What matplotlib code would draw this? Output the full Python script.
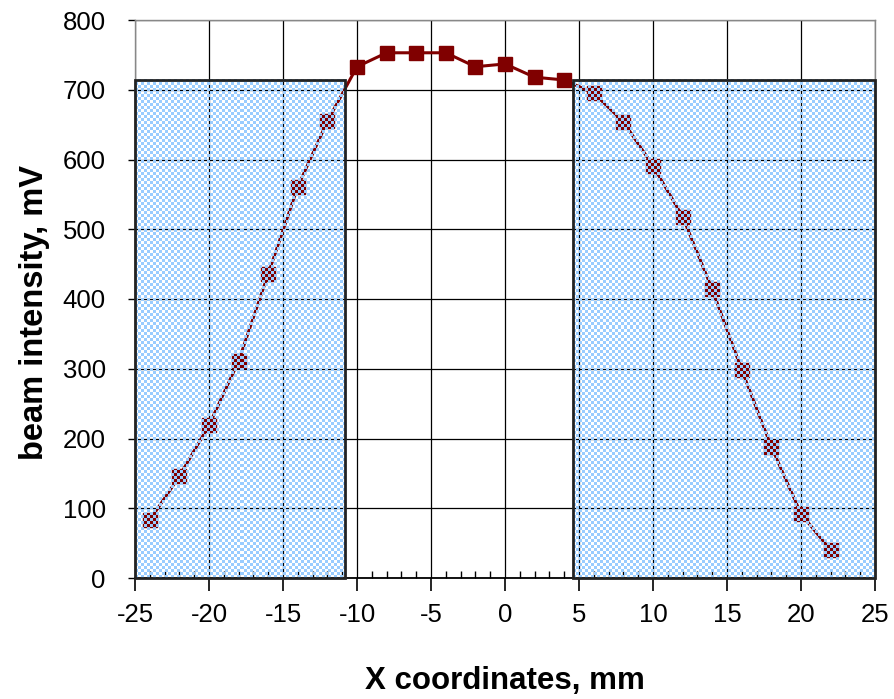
import numpy as np
import matplotlib
matplotlib.use("Agg")
import matplotlib.pyplot as plt
from matplotlib.patches import Rectangle

x_mm = [-24, -22, -20, -18, -16, -14, -12, -10, -8, -6, -4, -2, 0, 2, 4,
        6, 8, 10, 12, 14, 16, 18, 20, 22]
intensity_mv = [83, 146, 219, 311, 436, 561, 655, 733, 753, 753, 753, 733, 737, 718, 714,
                695, 654, 591, 518, 414, 298, 188, 92, 40]
shade_left = (-25, -10.8)
shade_right = (4.6, 25)
shade_top = 714
x_ticks = [-25, -20, -15, -10, -5, 0, 5, 10, 15, 20, 25]
y_ticks = [0, 100, 200, 300, 400, 500, 600, 700, 800]

plt.rcParams['font.family'] = ['Liberation Sans', 'DejaVu Sans']
plt.rcParams['axes.unicode_minus'] = False

W, H = 894, 699
fig = plt.figure(figsize=(W / 100, H / 100), dpi=100)
L, R, B, T = 135 / W, 875 / W, (H - 578) / H, (H - 20) / H
ax = fig.add_axes([L, B, R - L, T - B])
ax.set_xlim(-25, 25)
ax.set_ylim(0, 800)
ax.set_xticks(x_ticks)
ax.set_yticks(y_ticks)
ax.set_xticks(np.arange(-25, 26, 1), minor=True)
ax.grid(True, which='major', color='black', linewidth=0.9, zorder=1)
ax.set_axisbelow(True)

ax.tick_params(axis='x', which='major', direction='out', length=9, width=1.2,
               labelsize=18.5, pad=9)
ax.tick_params(axis='x', which='minor', direction='in', length=5, width=1.0)
ax.tick_params(axis='y', which='major', direction='out', length=5, width=1.0,
               labelsize=18.5, pad=16)
for s in ['top', 'right', 'left']:
    ax.spines[s].set_color('#888888')
    ax.spines[s].set_linewidth(1.0)
ax.spines['bottom'].set_color('black')
ax.spines['bottom'].set_linewidth(1.3)

ax.plot(x_mm, intensity_mv, color='#800000', linewidth=2.2, marker='s',
        markersize=9.5, markerfacecolor='#800000', markeredgecolor='#800000', zorder=3)

# checker overlay for shaded regions
px_per_x = (875 - 135) / 50.0
px_per_y = (578 - 20) / 800.0
cell = 3.0
for (x0, x1) in [shade_left, shade_right]:
    nx = int(round((x1 - x0) * px_per_x / cell))
    ny = int(round(shade_top * px_per_y / cell))
    ii, jj = np.indices((ny, nx))
    mask = ((ii + jj) % 2 == 0)
    img = np.zeros((ny, nx, 4))
    img[..., 0] = 0x99 / 255
    img[..., 1] = 0xCC / 255
    img[..., 2] = 1.0
    img[..., 3] = np.where(mask, 1.0, 0.0)
    ax.imshow(img, extent=(x0, x1, 0, shade_top), aspect='auto',
              interpolation='nearest', zorder=4, origin='lower')
    ax.add_patch(Rectangle((x0, 0), x1 - x0, shade_top, fill=False,
                           edgecolor='#222222', linewidth=2, zorder=5,
                           clip_on=False))
ax.set_xlim(-25, 25)
ax.set_ylim(0, 800)

ax.set_xlabel('X coordinates, mm', fontsize=22.5, fontweight='bold')
ax.set_ylabel('beam intensity, mV', fontsize=23.5, fontweight='bold')
ax.xaxis.set_label_coords(0.5, (578 - 689) / 558, transform=ax.transAxes)
ax.xaxis.label.set_va('baseline')
ax.yaxis.set_label_coords((35 - 135) / 740, (578 - 312) / 558, transform=ax.transAxes)
ax.yaxis.label.set_va('center')

fig.savefig('out.png', dpi=100)
